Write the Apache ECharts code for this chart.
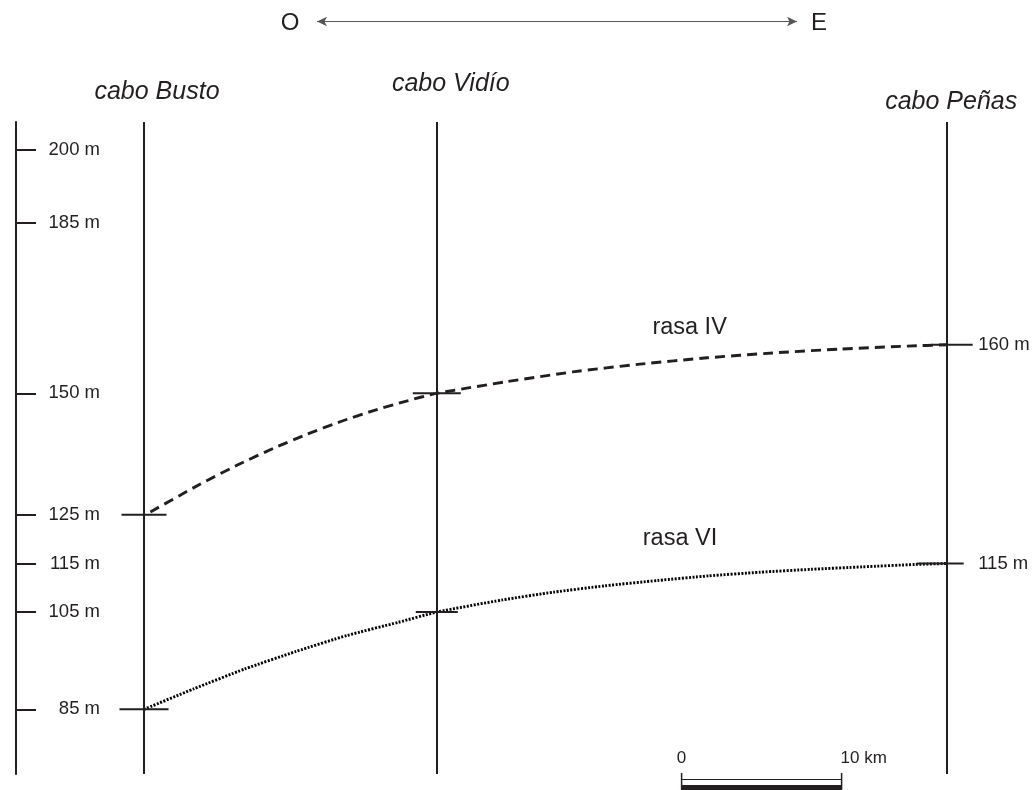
<!DOCTYPE html>
<html>
<head>
<meta charset="utf-8">
<script src="https://cdn.jsdelivr.net/npm/echarts@6/dist/echarts.min.js"></script>
<style>
html,body{margin:0;padding:0;background:#fff}
#c{width:1033px;height:790px}
</style>
</head>
<body>
<div id="c"></div>
<script>
// ---- data ----
const stations = ['cabo Busto', 'cabo Vidío', 'cabo Peñas'];
const stationKm = [0, 18.3, 50.2];
const elevTicks = [85, 105, 115, 125, 150, 185, 200];

const rasaIVKm   = [0.4, 3.5, 6.0, 8.1, 10.2, 12.3, 14.3, 16.4, 18.3, 22.7, 26.8, 31.0, 35.2, 39.3, 43.5, 47.7, 50.2];
const rasaIVElev = [125.6, 131.3, 135.5, 138.7, 141.6, 144.2, 146.4, 148.4, 150, 152.4, 154.4, 156.0, 157.3, 158.3, 159.1, 159.7, 160];

const rasaVIKm   = [0, 3.1, 6.3, 9.5, 12.7, 15.9, 18.3, 22.4, 25.6, 28.8, 32.1, 35.3, 38.5, 41.7, 44.9, 48.2, 50.2];
const rasaVIElev = [85, 89.2, 93.3, 96.9, 100.2, 102.9, 105, 107.5, 109.1, 110.4, 111.5, 112.45, 113.2, 113.8, 114.3, 114.8, 115];

const markKm   = [0, 0, 18.3, 18.3, 50.2, 50.2];
const markElev = [125, 85, 150, 105, 160, 115];

const rightLabelKm   = [50.2, 50.2];
const rightLabelElev = [160, 115];

const scaleBarKm = [33.6, 43.6];
const scaleBarLabels = ['0', '10 km'];

// ---- styles ----
const INK = '#231f20';
const FONT = "'Liberation Sans', Arial, sans-serif";
const markWidths  = [45, 49, 48, 42, 41, 47];
const markOffsets = [0, 0, 0, 0, 5, -7];

const Y_MIN = 71.7, Y_MAX = 205.8;

const chart = echarts.init(document.getElementById('c'), null, {renderer: 'canvas'});

const option = {
  animation: false,
  backgroundColor: '#fff',
  grid: {left: 16, right: 9, top: 122, height: 652, containLabel: false},
  xAxis: {type: 'value', min: -8, max: 55, show: false},
  yAxis: {
    type: 'value', min: Y_MIN, max: Y_MAX, position: 'left',
    axisLine: {show: true, onZero: false, lineStyle: {color: INK, width: 2}},
    axisTick: {show: true, inside: true, length: 20, customValues: elevTicks, lineStyle: {color: INK, width: 2}},
    axisLabel: {
      show: true, inside: true, margin: 84, align: 'right', customValues: elevTicks,
      formatter: v => v + ' m', color: INK, fontFamily: FONT, fontSize: 18.5
    },
    splitLine: {show: false}
  },
  series: [
    {
      name: 'rasa IV', type: 'line', showSymbol: false, smooth: 0.2,
      data: rasaIVKm.map((x, i) => [x, rasaIVElev[i]]),
      lineStyle: {color: INK, width: 2.9, type: [10, 6]},
      z: 3
    },
    {
      name: 'rasa VI', type: 'line', showSymbol: false, smooth: 0.2,
      data: rasaVIKm.map((x, i) => [x, rasaVIElev[i]]),
      lineStyle: {color: '#000', width: 2.9, type: [2, 1.5]},
      z: 3
    },
    {
      name: 'marks', type: 'scatter', symbol: 'rect',
      data: markKm.map((x, i) => ({
        value: [x, markElev[i]],
        symbolSize: [markWidths[i], 2],
        symbolOffset: [markOffsets[i], 0]
      })),
      itemStyle: {color: INK, opacity: 1},
      silent: true, z: 4,
      markLine: {
        silent: true, symbol: ['none', 'none'],
        label: {show: false},
        lineStyle: {color: INK, width: 2, type: 'solid'},
        data: stationKm.map(x => ({xAxis: x}))
      }
    },
    {
      name: 'rightLabels', type: 'scatter', symbolSize: 0,
      data: rightLabelKm.map((x, i) => [x, rightLabelElev[i]]),
      itemStyle: {color: INK, opacity: 1},
      label: {
        show: true, position: 'right', distance: 31,
        formatter: p => p.value[1] + ' m',
        color: INK, fontFamily: FONT, fontSize: 18.5, opacity: 1
      },
      silent: true,
      markLine: {
        silent: true, symbol: ['arrow', 'arrow'], symbolSize: [7, 10],
        label: {show: false},
        itemStyle: {color: INK},
        lineStyle: {color: '#555', width: 1.2, type: 'solid'},
        data: [[{x: 317, y: 21.5}, {x: 797, y: 21.5}]]
      }
    },
    {
      name: 'scaleBar', type: 'custom', coordinateSystem: 'cartesian2d', clip: false, silent: true,
      data: [[scaleBarKm[0], scaleBarKm[1], Y_MIN]],
      encode: {x: [0, 1], y: 2},
      renderItem: (params, api) => {
        const p1 = api.coord([api.value(0), api.value(2)]);
        const p2 = api.coord([api.value(1), api.value(2)]);
        const x1 = p1[0], x2 = p2[0], yb = p1[1];
        return {
          type: 'group',
          children: [
            {type: 'line', shape: {x1: x1, y1: yb - 1, x2: x1, y2: yb + 16}, style: {stroke: INK, lineWidth: 1.5}},
            {type: 'line', shape: {x1: x2, y1: yb - 1, x2: x2, y2: yb + 16}, style: {stroke: INK, lineWidth: 1.5}},
            {type: 'line', shape: {x1: x1, y1: yb + 5.5, x2: x2, y2: yb + 5.5}, style: {stroke: INK, lineWidth: 1}},
            {type: 'rect', shape: {x: x1, y: yb + 11, width: x2 - x1, height: 6}, style: {fill: INK}},
            {type: 'text', style: {text: scaleBarLabels[0], x: x1, y: yb - 16, align: 'center', verticalAlign: 'middle', fill: INK, fontFamily: FONT, fontSize: 17}},
            {type: 'text', style: {text: scaleBarLabels[1], x: x2 - 1, y: yb - 16, align: 'left', verticalAlign: 'middle', fill: INK, fontFamily: FONT, fontSize: 17}}
          ]
        };
      }
    }
  ]
};

chart.setOption(option);

// ---- text annotations anchored to the axes ----
const px = (km, m) => chart.convertToPixel({gridIndex: 0}, [km, m]);
const stationLabelDx = [13, 14, 4];
const stationLabelY = [92.5, 84, 102];
const graphics = [];
stations.forEach((name, i) => {
  const x = chart.convertToPixel({xAxisIndex: 0}, stationKm[i]);
  graphics.push({
    type: 'text', x: x + stationLabelDx[i], y: stationLabelY[i],
    style: {text: name, align: 'center', verticalAlign: 'middle', fill: INK,
            fontFamily: FONT, fontSize: 25, fontStyle: 'italic'}
  });
});
const pIV = px(34.1, 163.5);
const pVI = px(33.5, 120.1);
graphics.push({type: 'text', x: pIV[0], y: pIV[1],
  style: {text: 'rasa IV', align: 'center', verticalAlign: 'middle', fill: INK, fontFamily: FONT, fontSize: 23.5}});
graphics.push({type: 'text', x: pVI[0], y: pVI[1],
  style: {text: 'rasa VI', align: 'center', verticalAlign: 'middle', fill: INK, fontFamily: FONT, fontSize: 23.5}});
graphics.push({type: 'text', x: 290, y: 23,
  style: {text: 'O', align: 'center', verticalAlign: 'middle', fill: INK, fontFamily: FONT, fontSize: 24}});
graphics.push({type: 'text', x: 819, y: 23,
  style: {text: 'E', align: 'center', verticalAlign: 'middle', fill: INK, fontFamily: FONT, fontSize: 24}});

chart.setOption({graphic: graphics});
</script>
</body>
</html>
